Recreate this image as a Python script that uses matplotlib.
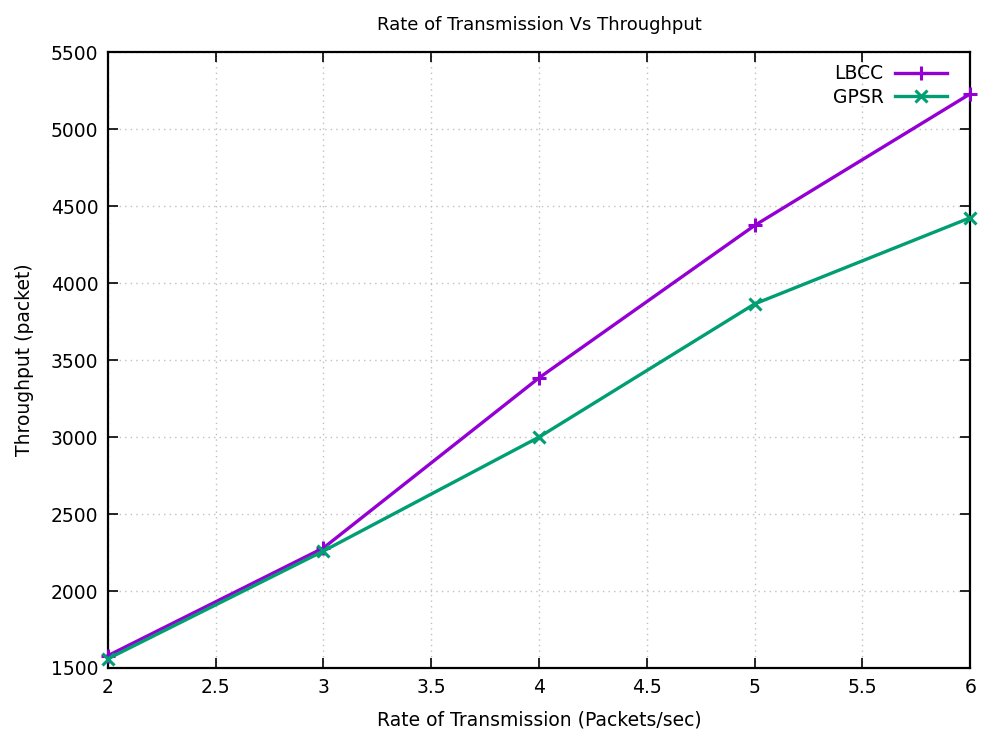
import numpy as np
import matplotlib.pyplot as plt

rate = [2, 3, 4, 5, 6]
lbcc = [1580, 2280, 3385, 4375, 5230]
gpsr = [1560, 2260, 3000, 3865, 4425]

fig = plt.figure(figsize=(9.81, 7.33), dpi=100)
ax = fig.add_axes([0.110, 0.0887, 0.879, 0.840])

ax.plot(rate, lbcc, color="#9400d3", lw=2.4, marker="+", ms=10, mew=2.2, label="LBCC", clip_on=False, zorder=3)
ax.plot(rate, gpsr, color="#009e73", lw=2.4, marker="x", ms=8, mew=2.2, label="GPSR", clip_on=False, zorder=3)

ax.set_xlim(2, 6)
ax.set_ylim(1500, 5500)
ax.set_xticks(np.arange(2, 6.01, 0.5))
ax.set_xticklabels(["2", "2.5", "3", "3.5", "4", "4.5", "5", "5.5", "6"])
ax.set_yticks(np.arange(1500, 5501, 500))
ax.tick_params(direction="in", top=True, right=True, length=7, width=1.2, labelsize=13.5, pad=7)
ax.grid(True, color="#c0c0c0", linestyle=(0, (1, 3)), lw=1)
for s in ax.spines.values():
    s.set_linewidth(1.6)

ax.set_xlabel("Rate of Transmission (Packets/sec)", fontsize=13.5, labelpad=10)
ax.set_ylabel("Throughput (packet)", fontsize=13.5, labelpad=12)
ax.set_title("Rate of Transmission Vs Throughput", fontsize=13, pad=16)

leg = ax.legend(loc="upper right", frameon=False, markerfirst=False, fontsize=13.5,
                handlelength=2.8, borderaxespad=0.2, borderpad=0.2, labelspacing=0.25,
                handletextpad=0.6, bbox_to_anchor=(0.982, 0.993))

fig.savefig("out.png", dpi=100)
